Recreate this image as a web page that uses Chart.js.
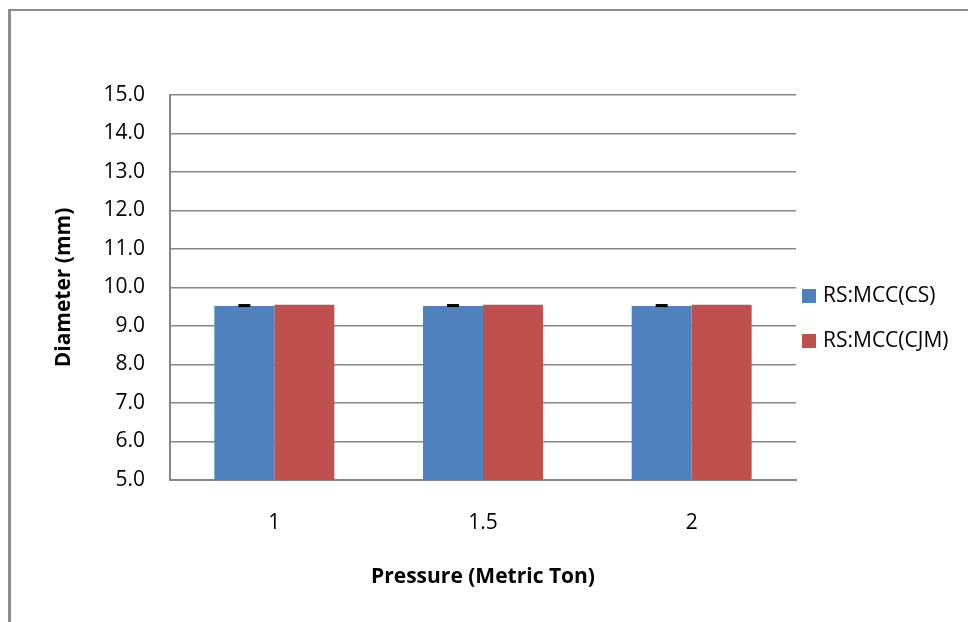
<!DOCTYPE html>
<html>
<head>
<meta charset="utf-8">
<script src="https://cdn.jsdelivr.net/npm/chart.js@4.4.1/dist/chart.umd.min.js"></script>
<style>
  html, body { margin: 0; padding: 0; background: #fff; }
  #frame {
    position: absolute; left: 8px; top: 9px; width: 980px; height: 640px;
    border-top: 2px solid #8c8c8c; border-left: 3px solid #8c8c8c;
  }
  #wrap { position: absolute; left: 0; top: 0; width: 968px; height: 622px; }
</style>
</head>
<body>
<div id="frame"></div>
<div id="wrap"><canvas id="myChart" width="968" height="622"></canvas></div>
<script>
const pressures = ["1", "1.5", "2"];
const csValues = [9.52, 9.52, 9.52];
const csErrors = [0.05, 0.05, 0.05];
const cjmValues = [9.55, 9.55, 9.55];
const seriesNames = ["RS:MCC(CS)", "RS:MCC(CJM)"];
const yTicks = [5, 6, 7, 8, 9, 10, 11, 12, 13, 14, 15];

const FONT = "'Open Sans', 'Liberation Sans', sans-serif";

// small black error caps on top of the blue bars
const errorBars = {
  id: 'errorBars',
  afterDatasetsDraw(chart) {
    const ctx = chart.ctx;
    const meta = chart.getDatasetMeta(0);
    const y = chart.scales.y;
    ctx.save();
    ctx.fillStyle = '#000';
    meta.data.forEach((bar, i) => {
      const top = y.getPixelForValue(csValues[i] + csErrors[i]);
      const base = y.getPixelForValue(csValues[i]);
      ctx.fillRect(bar.x - 6, top, 12, Math.max(3, base - top));
    });
    ctx.restore();
  }
};

// legend at the right, like the original
const sideLegend = {
  id: 'sideLegend',
  afterDraw(chart) {
    const ctx = chart.ctx;
    const x0 = chart.chartArea.right + 6;
    const rows = [296, 341];
    ctx.save();
    ctx.font = '21px ' + FONT;
    ctx.textBaseline = 'middle';
    chart.data.datasets.forEach((ds, i) => {
      ctx.fillStyle = ds.backgroundColor;
      ctx.fillRect(x0, rows[i] - 7, 14, 14);
      ctx.fillStyle = '#000';
      ctx.fillText(ds.label, x0 + 21, rows[i]);
    });
    ctx.restore();
  }
};

new Chart(document.getElementById('myChart').getContext('2d'), {
  type: 'bar',
  data: {
    labels: pressures,
    datasets: [{
      label: seriesNames[0],
      data: csValues,
      backgroundColor: '#4F81BD',
      categoryPercentage: 0.575,
      barPercentage: 1.0
    }, {
      label: seriesNames[1],
      data: cjmValues,
      backgroundColor: '#C0504D',
      categoryPercentage: 0.575,
      barPercentage: 1.0
    }]
  },
  options: {
    responsive: false,
    animation: false,
    layout: { padding: { left: 10, right: 172, top: 95, bottom: 0 } },
    plugins: { legend: { display: false }, tooltip: { enabled: false } },
    scales: {
      x: {
        grid: { display: false, drawTicks: false },
        border: { color: '#868686', width: 2 },
        ticks: { color: '#000', font: { family: FONT, size: 21 }, padding: 30 },
        title: {
          display: true, text: 'Pressure (Metric Ton)', color: '#000',
          font: { family: FONT, size: 21, weight: 'bold' }, padding: { top: 0, bottom: 32 }
        },
        afterFit(scale) { scale.height = 142; }
      },
      y: {
        min: 5, max: 15,
        afterBuildTicks(scale) { scale.ticks = yTicks.map(v => ({ value: v })); },
        grid: { color: '#868686', lineWidth: 1.5, drawTicks: false },
        border: { color: '#868686', width: 2 },
        ticks: {
          color: '#000', font: { family: FONT, size: 21 }, padding: 25,
          callback: v => Number(v).toFixed(1)
        },
        title: {
          display: true, text: 'Diameter (mm)', color: '#000',
          font: { family: FONT, size: 21, weight: 'bold' }, padding: { top: 41, bottom: 0 }
        },
        afterFit(scale) { scale.width = 160; }
      }
    }
  },
  plugins: [errorBars, sideLegend]
});
</script>
</body>
</html>
